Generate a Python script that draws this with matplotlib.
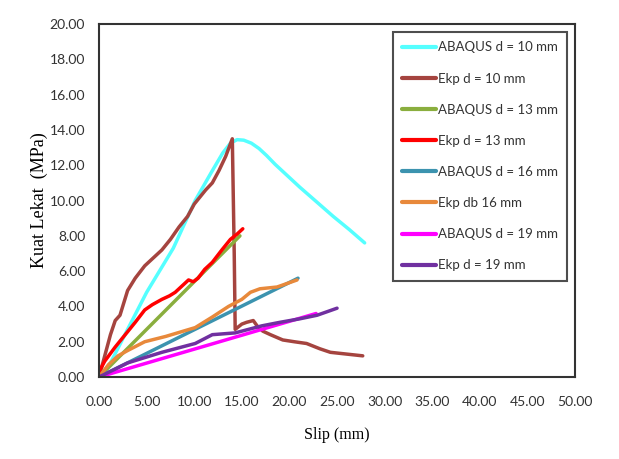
import numpy as np
import matplotlib
matplotlib.use("Agg")
from matplotlib import pyplot as plt

#------------- 数据 ---------------------#
# ABAQUS d = 10 mm
x_aba10 = [0, 1.2, 3.0, 5.0, 7.8, 10.1, 11.8, 13.0, 13.8, 14.5, 15.2, 16.0, 16.8, 17.6, 18.5, 19.5, 21.1, 22.8, 24.6, 26.3, 27.9]
y_aba10 = [0, 0.8, 2.7, 4.8, 7.3, 10.0, 11.6, 12.7, 13.25, 13.45, 13.42, 13.25, 12.95, 12.55, 12.05, 11.55, 10.75, 9.95, 9.1, 8.35, 7.6]
# Ekp d = 10 mm
x_ekp10 = [0, 0.5, 1.2, 1.7, 2.2, 2.6, 3.0, 3.8, 4.8, 5.6, 6.6, 7.5, 8.4, 9.3, 10.0, 10.6, 11.2, 11.9, 12.6, 13.3, 14.0,
           14.2, 14.3, 15.0, 15.5, 16.2, 16.6, 17.2, 18.0, 19.3, 20.5, 21.8, 23.2, 24.3, 26.0, 27.7]
y_ekp10 = [0, 1.0, 2.4, 3.2, 3.5, 4.2, 4.9, 5.6, 6.3, 6.7, 7.2, 7.8, 8.5, 9.1, 9.8, 10.2, 10.6, 11.0, 11.7, 12.5, 13.5,
           7.0, 2.7, 3.0, 3.1, 3.2, 2.9, 2.6, 2.4, 2.1, 2.0, 1.9, 1.6, 1.4, 1.3, 1.2]
# ABAQUS d = 13 mm
x_aba13 = [0, 14.8]
y_aba13 = [0, 8.0]
# Ekp d = 13 mm
x_ekp13 = [0, 0.6, 1.7, 2.6, 3.2, 3.8, 4.8, 5.6, 6.6, 7.4, 8.0, 9.0, 9.4, 9.9, 10.4, 11.1, 11.9, 12.9, 13.8, 14.5, 15.1]
y_ekp13 = [0.3, 0.9, 1.7, 2.3, 2.7, 3.1, 3.8, 4.1, 4.4, 4.6, 4.8, 5.3, 5.5, 5.4, 5.6, 6.1, 6.5, 7.2, 7.8, 8.1, 8.4]
# ABAQUS d = 16 mm
x_aba16 = [0, 20.9]
y_aba16 = [0, 5.6]
# Ekp db 16 mm
x_ekp16 = [0, 1.0, 2.0, 3.0, 4.8, 7.0, 10.1, 11.9, 13.6, 15.0, 15.9, 16.9, 18.7, 20.8]
y_ekp16 = [0, 0.7, 1.2, 1.5, 2.0, 2.3, 2.8, 3.4, 4.0, 4.4, 4.8, 5.0, 5.1, 5.5]
# ABAQUS d = 19 mm
x_aba19 = [0, 22.8]
y_aba19 = [0, 3.6]
# Ekp d = 19 mm
x_ekp19 = [0, 3.0, 6.6, 10.1, 11.9, 14.3, 17.1, 19.0, 21.1, 22.9, 25.0]
y_ekp19 = [0, 0.8, 1.4, 1.9, 2.4, 2.5, 2.9, 3.1, 3.3, 3.5, 3.9]

series = [
    (x_aba10, y_aba10, '#55FFFF', 'ABAQUS d = 10 mm'),
    (x_ekp10, y_ekp10, '#A5443F', 'Ekp d = 10 mm'),
    (x_aba13, y_aba13, '#8AAE3E', 'ABAQUS d = 13 mm'),
    (x_ekp13, y_ekp13, '#FF0000', 'Ekp d = 13 mm'),
    (x_aba16, y_aba16, '#3C93AF', 'ABAQUS d = 16 mm'),
    (x_ekp16, y_ekp16, '#E8893B', 'Ekp db 16 mm'),
    (x_aba19, y_aba19, '#FF00FF', 'ABAQUS d = 19 mm'),
    (x_ekp19, y_ekp19, '#7030A0', 'Ekp d = 19 mm'),
]

#------------- 绘图 ---------------------#
fig = plt.figure(figsize=(6.19, 4.59), dpi=100)
ax = fig.add_axes([0.160, 0.1786, 0.769, 0.769])

for x, y, c, lab in series:
    ax.plot(x, y, color=c, lw=2.5, label=lab, solid_capstyle='round', solid_joinstyle='round')

ax.set_xlim(0, 50)
ax.set_ylim(0, 20)
ax.set_xticks(np.arange(0, 51, 5))
ax.set_yticks(np.arange(0, 21, 2))
ax.set_xticklabels(['%.2f' % v for v in np.arange(0, 51, 5)], family='Lato', fontsize=10, color='#333333')
ax.set_yticklabels(['%.2f' % v for v in np.arange(0, 21, 2)], family='Lato', fontsize=10, color='#333333')
ax.tick_params(length=0)
ax.tick_params(axis='x', pad=14)
ax.tick_params(axis='y', pad=10)
for s in ax.spines.values():
    s.set_color('#333333')
    s.set_linewidth(1.5)

ax.set_xlabel('Slip (mm)', family='Liberation Serif', fontsize=11.5, labelpad=13)
ax.set_ylabel('Kuat Lekat  (MPa)', family='Liberation Serif', fontsize=13, labelpad=1)

leg = ax.legend(loc='upper right', bbox_to_anchor=(0.983, 0.977), prop={'family': 'Lato', 'size': 9.5},
                frameon=True, fancybox=False, edgecolor='#222222', handlelength=2.6, handletextpad=0.1,
                labelspacing=1.45, borderpad=0.7, borderaxespad=0)
leg.get_frame().set_linewidth(1.5)
for line in leg.get_lines():
    line.set_linewidth(3.0)
for t in leg.get_texts():
    t.set_color('#333333')

plt.savefig('out.png', dpi=100)
